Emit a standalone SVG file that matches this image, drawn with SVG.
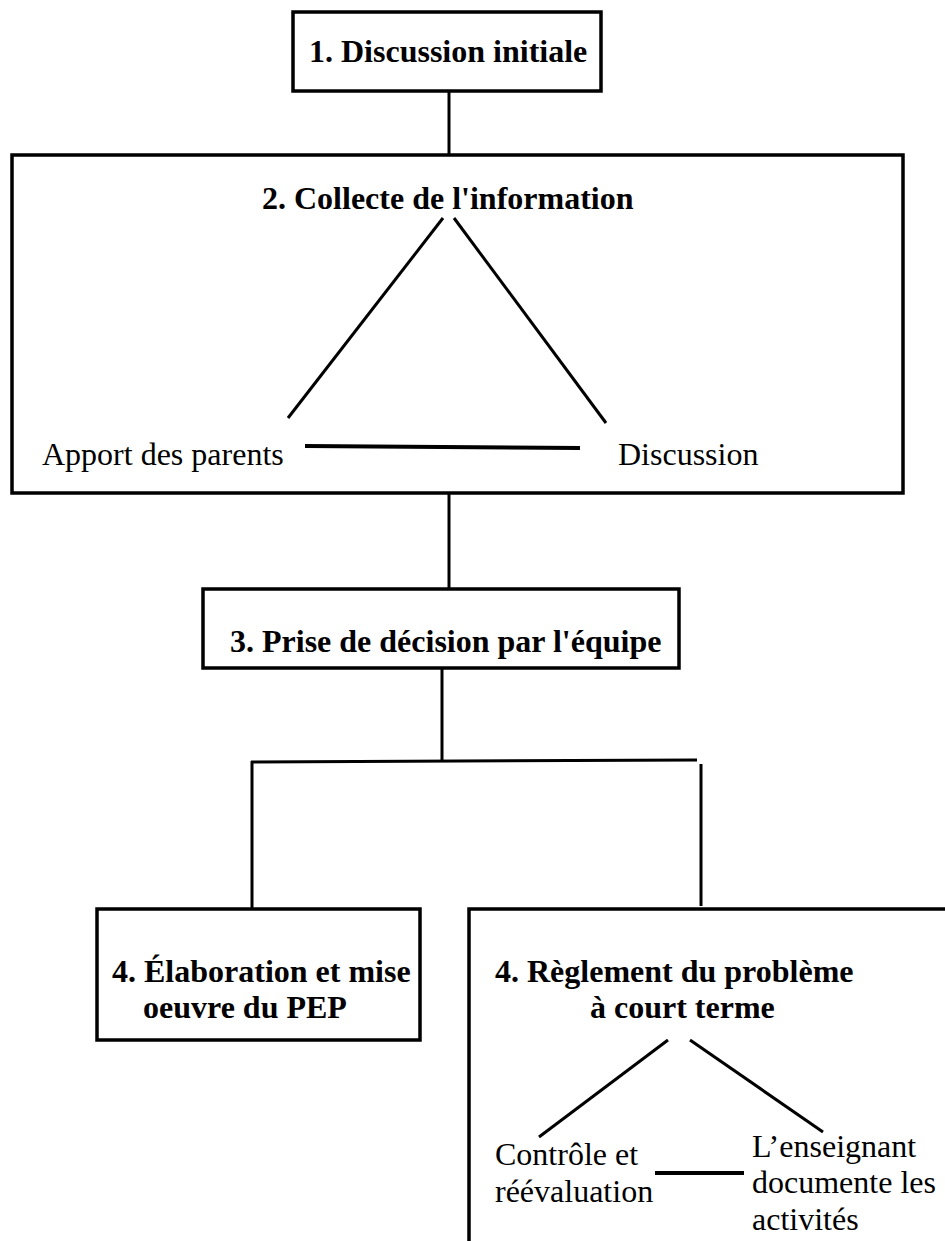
<svg xmlns="http://www.w3.org/2000/svg" width="945" height="1241" viewBox="0 0 945 1241">
<style>
.box{fill:#fff;stroke:#000;stroke-width:3.5}
.ln{stroke:#000;stroke-width:3;fill:none}
.thick{stroke-width:4}
.b{font-family:"Liberation Serif","Times New Roman",serif;font-weight:bold;font-size:32px;fill:#000}
.r{font-family:"Liberation Serif","Times New Roman",serif;font-size:32px;fill:#000}
</style>
<rect width="945" height="1241" fill="#fff"/>
<g id="connectors">
<line class="ln" x1="449" y1="91" x2="449" y2="155"/>
<line class="ln" x1="449" y1="493" x2="449" y2="589"/>
<line class="ln" x1="442" y1="668" x2="442" y2="761"/>
<line class="ln" x1="251" y1="762" x2="697" y2="760"/>
<line class="ln" x1="252" y1="761" x2="252" y2="909"/>
<line class="ln" x1="701" y1="764" x2="701" y2="906"/>
</g>
<g id="node1">
<rect class="box" x="293" y="12" width="308" height="79"/>
<text class="b" x="309" y="62">1. Discussion initiale</text>
</g>
<g id="node2">
<rect class="box" x="12" y="155" width="891" height="338"/>
<text class="b" x="262" y="209">2. Collecte de l'information</text>
<line class="ln" x1="443" y1="218" x2="288" y2="418"/>
<line class="ln" x1="454" y1="218" x2="606" y2="423"/>
<line class="ln thick" x1="305" y1="446" x2="580" y2="448"/>
<text class="r" x="42" y="465">Apport des parents</text>
<text class="r" x="618" y="465">Discussion</text>
</g>
<g id="node3">
<rect class="box" x="203" y="589" width="476" height="79"/>
<text class="b" x="230" y="652">3. Prise de décision par l'équipe</text>
</g>
<g id="node4a">
<rect class="box" x="97" y="909" width="323" height="131"/>
<text class="b" x="112" y="982">4. Élaboration et mise</text>
<text class="b" x="143" y="1018">oeuvre du PEP</text>
</g>
<g id="node4b">
<rect class="box" x="469" y="909" width="520" height="400"/>
<text class="b" x="495" y="982">4. Règlement du problème</text>
<text class="b" x="590" y="1018">à court terme</text>
<line class="ln" x1="668" y1="1040" x2="539" y2="1137"/>
<line class="ln" x1="690" y1="1040" x2="823" y2="1132"/>
<line class="ln thick" x1="655" y1="1173" x2="744" y2="1173"/>
<text class="r" x="495" y="1165">Contrôle et</text>
<text class="r" x="495" y="1202">réévaluation</text>
<text class="r" x="752" y="1157">L’enseignant</text>
<text class="r" x="752" y="1193">documente les</text>
<text class="r" x="752" y="1230">activités</text>
</g>
</svg>
